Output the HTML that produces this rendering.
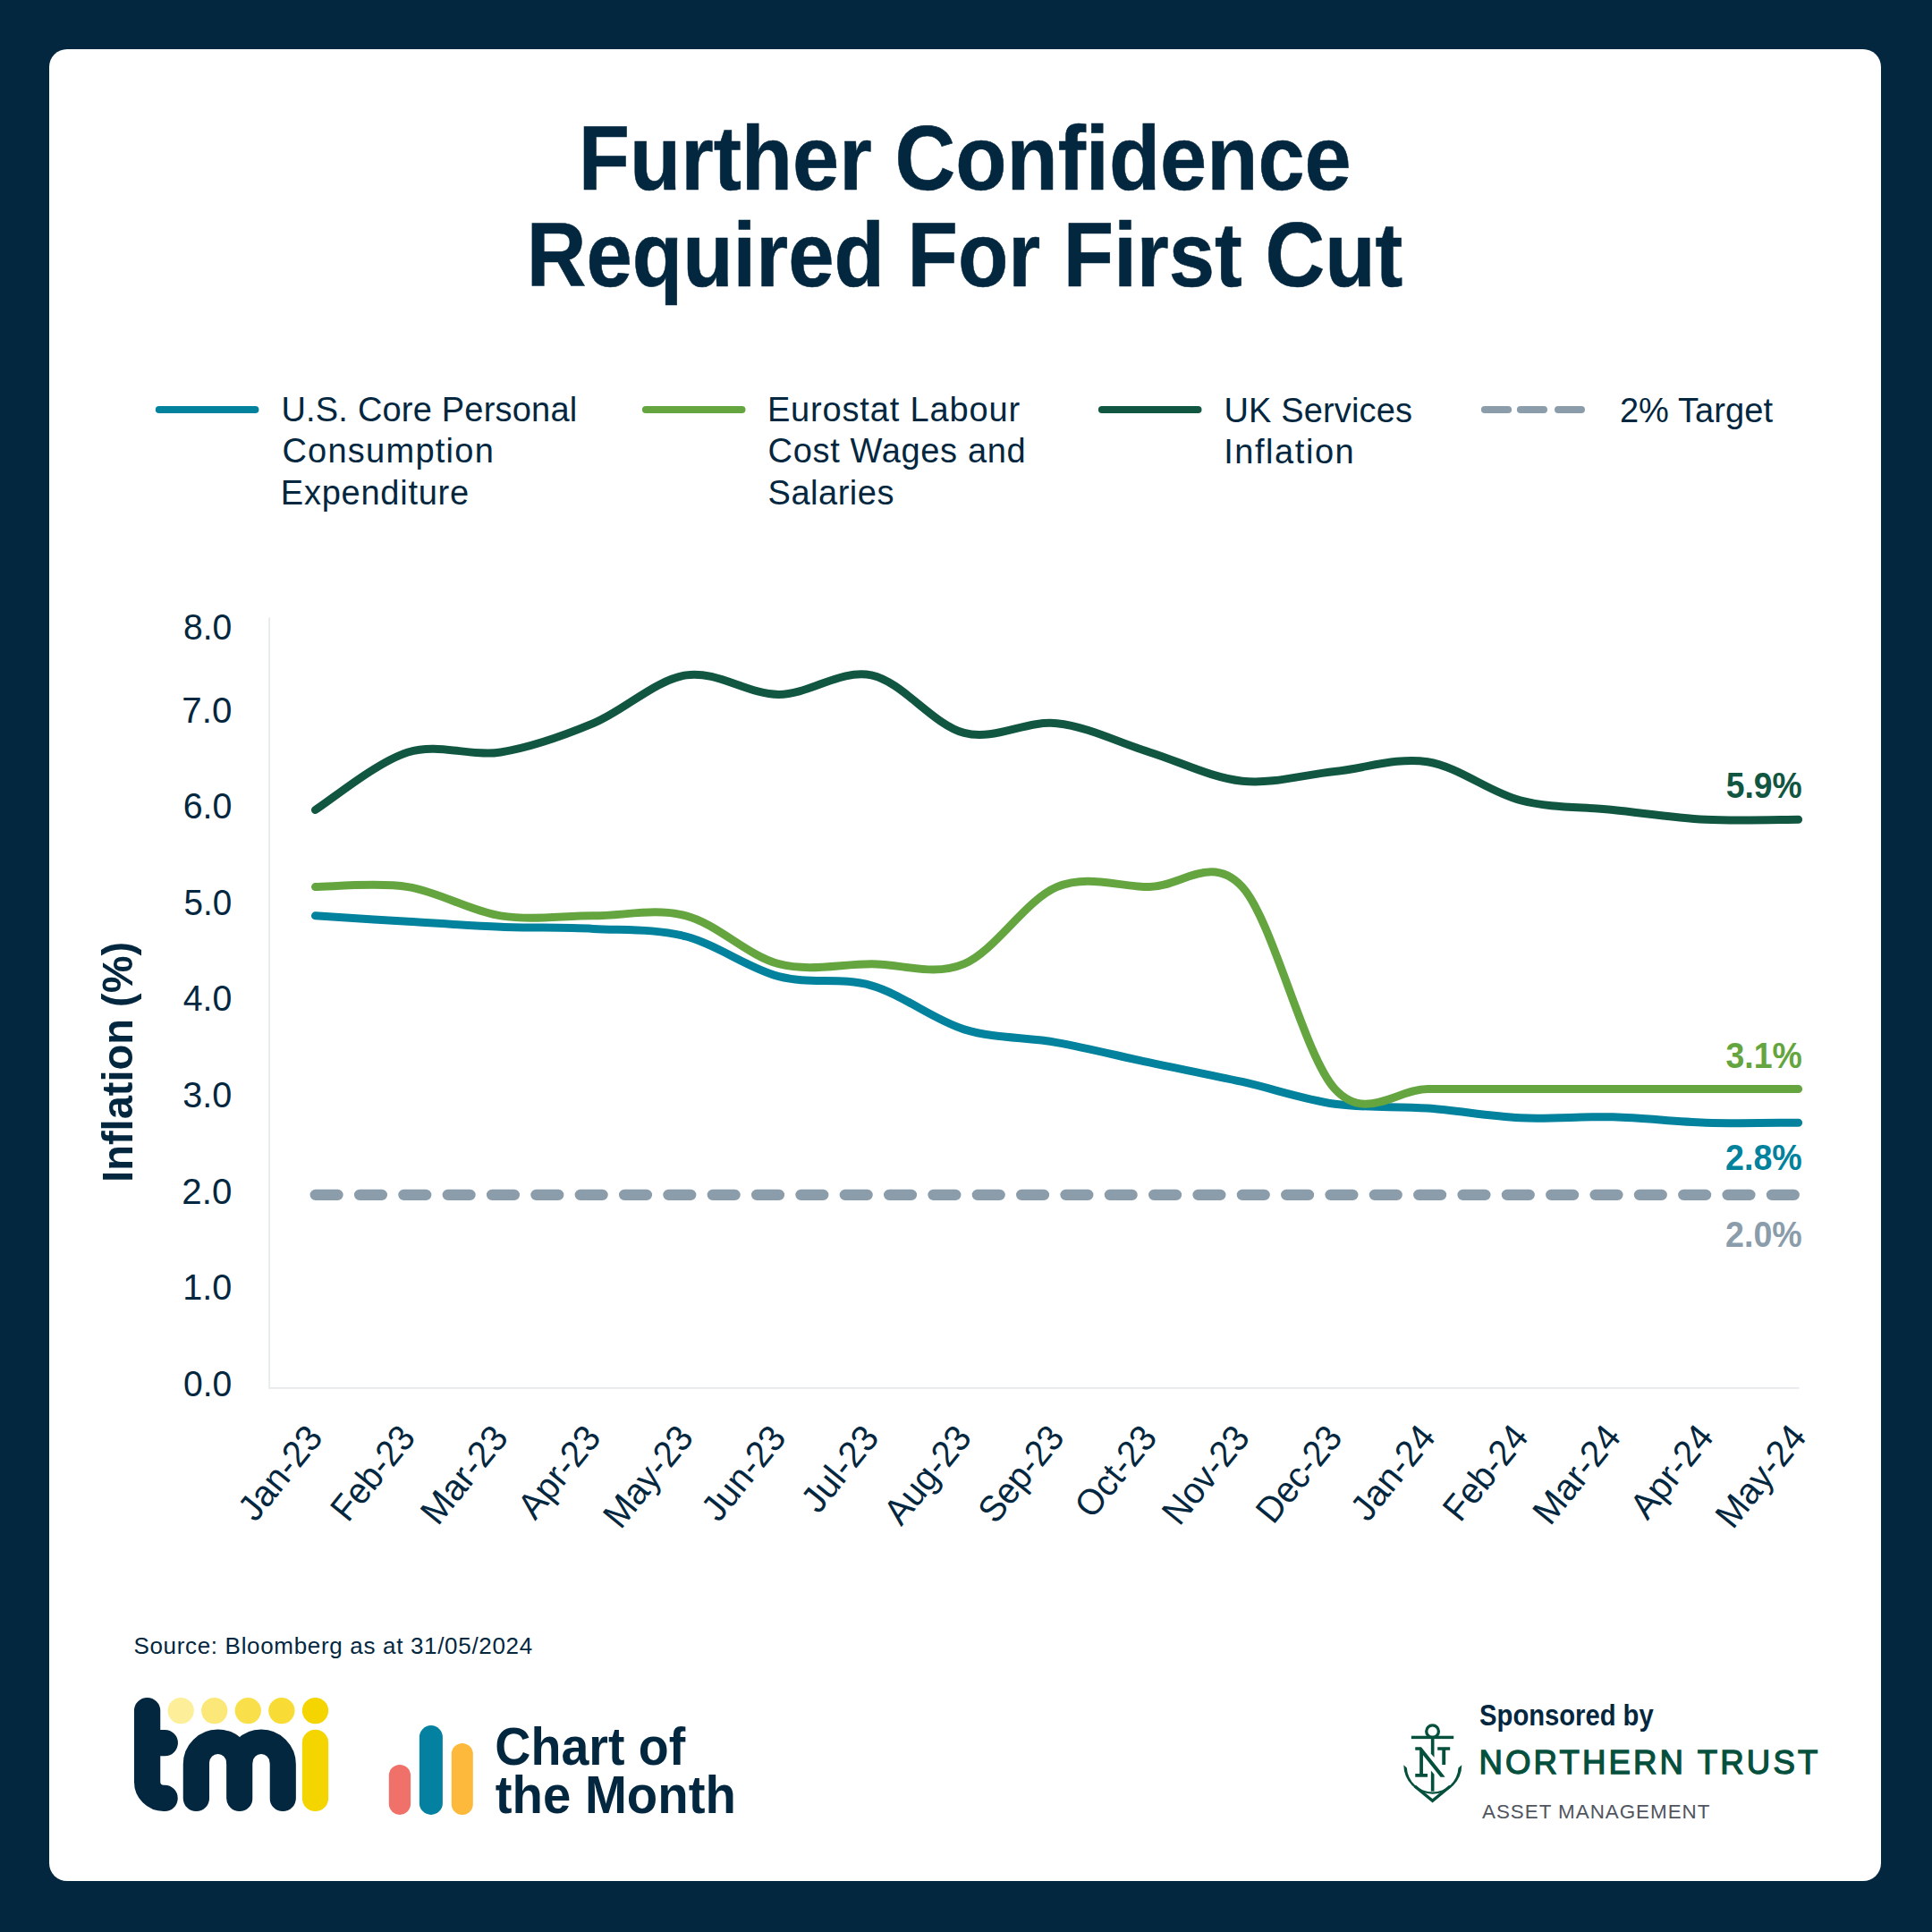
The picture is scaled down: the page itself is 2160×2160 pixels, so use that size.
<!DOCTYPE html>
<html lang="en">
<head>
<meta charset="utf-8">
<title>Further Confidence Required For First Cut</title>
<style>
html,body{margin:0;padding:0;}
body{width:2160px;height:2160px;background:#03273F;overflow:hidden;position:relative;font-family:"Liberation Sans", sans-serif;}
.card{position:absolute;left:55px;top:55px;width:2048px;height:2048px;background:#fff;border-radius:20px;}
svg{position:absolute;left:0;top:0;width:2160px;height:2160px;display:block;}
svg text{font-family:"Liberation Sans", sans-serif;white-space:pre;}
svg text.ttl{stroke:#03273F;stroke-width:0.6px;}
svg text.nt{stroke:#04503C;stroke-width:1.3px;}
</style>
</head>
<body>
<main class="card"></main>
<svg viewBox="0 0 2160 2160" width="2160" height="2160" role="img" aria-label="Further Confidence Required For First Cut">
<g class="legend-swatches" fill="none" stroke-linecap="round" stroke-width="8.2">
<path d="M177.9,458H285.35" stroke="#02829D"/>
<path d="M722,458H829.4" stroke="#64A540"/>
<path d="M1232,458H1339.4" stroke="#115641"/>
<path d="M1660,458H1686M1700,458H1725.9M1742.1,458H1767.9" stroke="#8B9DAB"/>
</g>
<path d="M301.1,690.3V1551.8H2011.5" fill="none" stroke="#E6E9EC" stroke-width="1.7"/>
<path d="M352.80,1335.90H2010.60" fill="none" stroke="#8B9DAB" stroke-width="12.4" stroke-linecap="round" stroke-dasharray="24.67 24.67"/>
<g class="series" fill="none" stroke-linecap="round" stroke-linejoin="round" stroke-width="9">
<path d="M352.50,1023.86C369.77,1024.94 421.59,1028.25 456.13,1030.32C490.68,1032.38 525.22,1034.89 559.76,1036.23C594.31,1037.58 628.85,1036.59 663.39,1038.39C697.94,1040.18 732.48,1038.12 767.02,1046.99C801.57,1055.87 836.11,1082.50 870.66,1091.65C905.20,1100.79 939.74,1092.01 974.29,1101.87C1008.83,1111.73 1043.37,1140.21 1077.92,1150.83C1112.46,1161.44 1147.01,1159.38 1181.55,1165.57C1216.09,1171.76 1250.64,1180.63 1285.18,1187.95C1319.73,1195.27 1354.27,1201.76 1388.81,1209.47C1423.36,1217.18 1457.90,1229.29 1492.44,1234.22C1526.99,1239.15 1561.53,1236.46 1596.07,1239.06C1630.62,1241.66 1665.16,1248.21 1699.71,1249.82C1734.25,1251.43 1768.79,1247.85 1803.34,1248.74C1837.88,1249.64 1872.42,1254.12 1906.97,1255.20C1941.51,1256.28 1993.33,1255.20 2010.60,1255.20" stroke="#02829D"/>
<path d="M352.50,991.58C369.77,991.58 421.59,986.20 456.13,991.58C490.68,996.96 525.22,1018.48 559.76,1023.86C594.31,1029.24 628.85,1023.86 663.39,1023.86C697.94,1023.86 732.48,1014.89 767.02,1023.86C801.57,1032.83 836.11,1068.69 870.66,1077.66C905.20,1086.63 939.74,1077.66 974.29,1077.66C1008.83,1077.66 1043.37,1092.01 1077.92,1077.66C1112.46,1063.31 1147.01,1005.93 1181.55,991.58C1216.09,977.23 1250.64,991.58 1285.18,991.58C1319.73,991.58 1354.27,953.92 1388.81,991.58C1423.36,1029.24 1457.90,1179.88 1492.44,1217.54C1526.99,1255.20 1561.53,1217.54 1596.07,1217.54C1630.62,1217.54 1665.16,1217.54 1699.71,1217.54C1734.25,1217.54 1768.79,1217.54 1803.34,1217.54C1837.88,1217.54 1872.42,1217.54 1906.97,1217.54C1941.51,1217.54 1993.33,1217.54 2010.60,1217.54" stroke="#64A540"/>
<path d="M352.50,905.50C369.77,894.74 421.59,851.70 456.13,840.94C490.68,830.18 525.22,846.32 559.76,840.94C594.31,835.56 628.85,823.01 663.39,808.66C697.94,794.31 732.48,760.24 767.02,754.86C801.57,749.48 836.11,776.38 870.66,776.38C905.20,776.38 939.74,747.69 974.29,754.86C1008.83,762.03 1043.37,810.45 1077.92,819.42C1112.46,828.39 1147.01,805.07 1181.55,808.66C1216.09,812.25 1250.64,830.18 1285.18,840.94C1319.73,851.70 1354.27,869.63 1388.81,873.22C1423.36,876.81 1457.90,866.05 1492.44,862.46C1526.99,858.87 1561.53,846.32 1596.07,851.70C1630.62,857.08 1665.16,885.77 1699.71,894.74C1734.25,903.71 1768.79,901.91 1803.34,905.50C1837.88,909.09 1872.42,914.47 1906.97,916.26C1941.51,918.05 1993.33,916.26 2010.60,916.26" stroke="#115641"/>
</g>
<g class="tmi-logo" fill="none" stroke="#03273F" stroke-width="29.3" stroke-linecap="round" stroke-linejoin="round">
<path d="M164.6,1912.6V1992a18.4,18.4 0 0 0 18.4,18.4H184.1M164.6,1948.6H184.3"/>
<path d="M219.4,2010.4V1972.4a24.2,24.2 0 0 1 48.4,0V2010.4M267.8,1972.4a24.2,24.2 0 0 1 48.4,0V2010.4"/>
<path d="M352.5,1948.4V2010.4" stroke="#F5D500"/>
</g>
<path d="M234.2,2030V1970.3a9.4,9.4 0 0 1 18.8,0V2030ZM282.6,2030V1970.3a9.4,9.4 0 0 1 18.8,0V2030Z" fill="#fff"/>
<circle cx="202.2" cy="1912.6" r="14.65" fill="#FDEE9A"/>
<circle cx="239.75" cy="1912.6" r="14.65" fill="#FBE878"/>
<circle cx="277.3" cy="1912.6" r="14.65" fill="#F9E04B"/>
<circle cx="314.85" cy="1912.6" r="14.65" fill="#F8DC35"/>
<circle cx="352.5" cy="1912.6" r="14.65" fill="#F5D500"/>
<rect x="434.8" y="1973" width="24.3" height="55.9" rx="12.15" fill="#EF7169"/>
<rect x="468.9" y="1929.1" width="26" height="99.8" rx="13" fill="#0480A0"/>
<rect x="504.8" y="1949.1" width="24" height="79.8" rx="12" fill="#FDB93C"/>
<g class="sponsor-anchor" transform="translate(1560,1920) scale(0.051760)" fill="#04503C" stroke="none">
<circle cx="803" cy="303" r="132" fill="none" stroke="#04503C" stroke-width="64"/>
<rect x="345" y="400" width="915" height="66"/>
<path d="M770,460H840V865L770,785Z"/>
<path d="M770,1150L840,1232V1600H770Z"/>
<path d="M430,640H560L1075,1290H975L598,814V1218H695V1290H430V1218H525V712H430Z"/>
<path d="M912,640H1182V712H1085V1022H1010V712H912Z"/>
<path d="M180,1030A623,623 0 0 0 1435,1030L1362,1090A558,558 0 0 1 248,1090Z"/>
<path d="M420,1487L803,1801L1186,1487" fill="none" stroke="#04503C" stroke-width="67" stroke-linejoin="miter" stroke-miterlimit="10"/>
</g>
<text class="ttl" transform="translate(646.79,212.00) scale(0.9184,1)" font-size="102" font-weight="700" fill="#03273F">Further Confidence</text>
<text class="ttl" transform="translate(588.87,319.90) scale(0.9049,1)" font-size="102" font-weight="700" fill="#03273F">Required For First Cut</text>
<text x="314.40" y="471.40" letter-spacing="0.205" font-size="38" font-weight="400" fill="#03273F">U.S. Core Personal</text>
<text x="315.40" y="517.20" letter-spacing="1.253" font-size="38" font-weight="400" fill="#03273F">Consumption</text>
<text x="313.80" y="563.60" letter-spacing="0.753" font-size="38" font-weight="400" fill="#03273F">Expenditure</text>
<text x="857.90" y="471.40" letter-spacing="0.840" font-size="38" font-weight="400" fill="#03273F">Eurostat Labour</text>
<text x="858.60" y="517.20" letter-spacing="0.664" font-size="38" font-weight="400" fill="#03273F">Cost Wages and</text>
<text x="858.60" y="563.60" letter-spacing="0.502" font-size="38" font-weight="400" fill="#03273F">Salaries</text>
<text x="1368.50" y="471.60" letter-spacing="0.134" font-size="38" font-weight="400" fill="#03273F">UK Services</text>
<text x="1368.20" y="517.60" letter-spacing="1.555" font-size="38" font-weight="400" fill="#03273F">Inflation</text>
<text x="1810.90" y="471.60" letter-spacing="0.083" font-size="38" font-weight="400" fill="#03273F">2% Target</text>
<text transform="translate(204.95,1560.80) scale(0.9548,1)" font-size="41" font-weight="400" fill="#03273F">0.0</text>
<text transform="translate(204.30,1453.20) scale(0.9663,1)" font-size="41" font-weight="400" fill="#03273F">1.0</text>
<text transform="translate(203.33,1345.60) scale(0.9835,1)" font-size="41" font-weight="400" fill="#03273F">2.0</text>
<text transform="translate(204.33,1238.00) scale(0.9657,1)" font-size="41" font-weight="400" fill="#03273F">3.0</text>
<text transform="translate(204.70,1130.40) scale(0.9592,1)" font-size="41" font-weight="400" fill="#03273F">4.0</text>
<text transform="translate(205.61,1022.80) scale(0.9430,1)" font-size="41" font-weight="400" fill="#03273F">5.0</text>
<text transform="translate(204.63,915.20) scale(0.9604,1)" font-size="41" font-weight="400" fill="#03273F">6.0</text>
<text transform="translate(203.33,807.60) scale(0.9835,1)" font-size="41" font-weight="400" fill="#03273F">7.0</text>
<text transform="translate(204.95,715.40) scale(0.9548,1)" font-size="41" font-weight="400" fill="#03273F">8.0</text>
<text transform="translate(1929.74,892.30) scale(0.9104,1)" font-size="41" font-weight="700" fill="#115641">5.9%</text>
<text transform="translate(1929.40,1193.60) scale(0.9140,1)" font-size="41" font-weight="700" fill="#64A540">3.1%</text>
<text transform="translate(1929.08,1308.10) scale(0.9174,1)" font-size="41" font-weight="700" fill="#02829D">2.8%</text>
<text transform="translate(1929.08,1393.90) scale(0.9174,1)" font-size="41" font-weight="700" fill="#8B9DAB">2.0%</text>
<text x="149.40" y="1849.30" letter-spacing="0.674" font-size="26" font-weight="400" fill="#03273F">Source: Bloomberg as at 31/05/2024</text>
<text transform="translate(553.32,1973.00) scale(0.9421,1)" font-size="59" font-weight="700" fill="#03273F">Chart of</text>
<text transform="translate(553.70,2027.40) scale(0.9553,1)" font-size="59" font-weight="700" fill="#03273F">the Month</text>
<text transform="translate(1654.10,1928.60) scale(0.8900,1)" font-size="32.8" font-weight="700" fill="#03273F">Sponsored by</text>
<text class="nt" x="1653.40" y="1982.90" letter-spacing="3.143" font-size="36.6" font-weight="400" fill="#04503C">NORTHERN TRUST</text>
<text x="1657.00" y="2032.50" letter-spacing="0.978" font-size="22.4" font-weight="400" fill="#50555F">ASSET MANAGEMENT</text>
<text transform="translate(148.10,1321.88) rotate(-90) scale(0.9603,1)" font-size="49" font-weight="700" fill="#03273F">Inflation (%)</text>
<text transform="translate(361.40,1609.40) rotate(-51) translate(-120.45,0) scale(0.9748,1)" font-size="41" fill="#03273F">Jan-23</text>
<text transform="translate(465.03,1609.40) rotate(-51) translate(-120.74,0) scale(0.9425,1)" font-size="41" fill="#03273F">Feb-23</text>
<text transform="translate(568.66,1609.40) rotate(-51) translate(-125.71,0) scale(0.9817,1)" font-size="41" fill="#03273F">Mar-23</text>
<text transform="translate(672.29,1609.40) rotate(-51) translate(-117.64,0) scale(0.9702,1)" font-size="41" fill="#03273F">Apr-23</text>
<text transform="translate(775.92,1609.40) rotate(-51) translate(-130.76,0) scale(0.9692,1)" font-size="41" fill="#03273F">May-23</text>
<text transform="translate(879.56,1609.40) rotate(-51) translate(-120.75,0) scale(0.9773,1)" font-size="41" fill="#03273F">Jun-23</text>
<text transform="translate(983.19,1609.40) rotate(-51) translate(-108.38,0) scale(0.9865,1)" font-size="41" fill="#03273F">Jul-23</text>
<text transform="translate(1086.82,1609.40) rotate(-51) translate(-125.93,0) scale(0.9657,1)" font-size="41" fill="#03273F">Aug-23</text>
<text transform="translate(1190.45,1609.40) rotate(-51) translate(-122.90,0) scale(0.9425,1)" font-size="41" fill="#03273F">Sep-23</text>
<text transform="translate(1294.08,1609.40) rotate(-51) translate(-116.04,0) scale(0.9571,1)" font-size="41" fill="#03273F">Oct-23</text>
<text transform="translate(1397.71,1609.40) rotate(-51) translate(-125.86,0) scale(0.9654,1)" font-size="41" fill="#03273F">Nov-23</text>
<text transform="translate(1501.34,1609.40) rotate(-51) translate(-123.78,0) scale(0.9495,1)" font-size="41" fill="#03273F">Dec-23</text>
<text transform="translate(1606.23,1607.85) rotate(-51) translate(-122.45,0) scale(0.9831,1)" font-size="41" fill="#03273F">Jan-24</text>
<text transform="translate(1709.86,1607.85) rotate(-51) translate(-122.76,0) scale(0.9509,1)" font-size="41" fill="#03273F">Feb-24</text>
<text transform="translate(1813.50,1607.85) rotate(-51) translate(-127.74,0) scale(0.9897,1)" font-size="41" fill="#03273F">Mar-24</text>
<text transform="translate(1917.13,1607.85) rotate(-51) translate(-119.64,0) scale(0.9786,1)" font-size="41" fill="#03273F">Apr-24</text>
<text transform="translate(2020.76,1607.85) rotate(-51) translate(-132.78,0) scale(0.9770,1)" font-size="41" fill="#03273F">May-24</text>
</svg>
</body>
</html>
